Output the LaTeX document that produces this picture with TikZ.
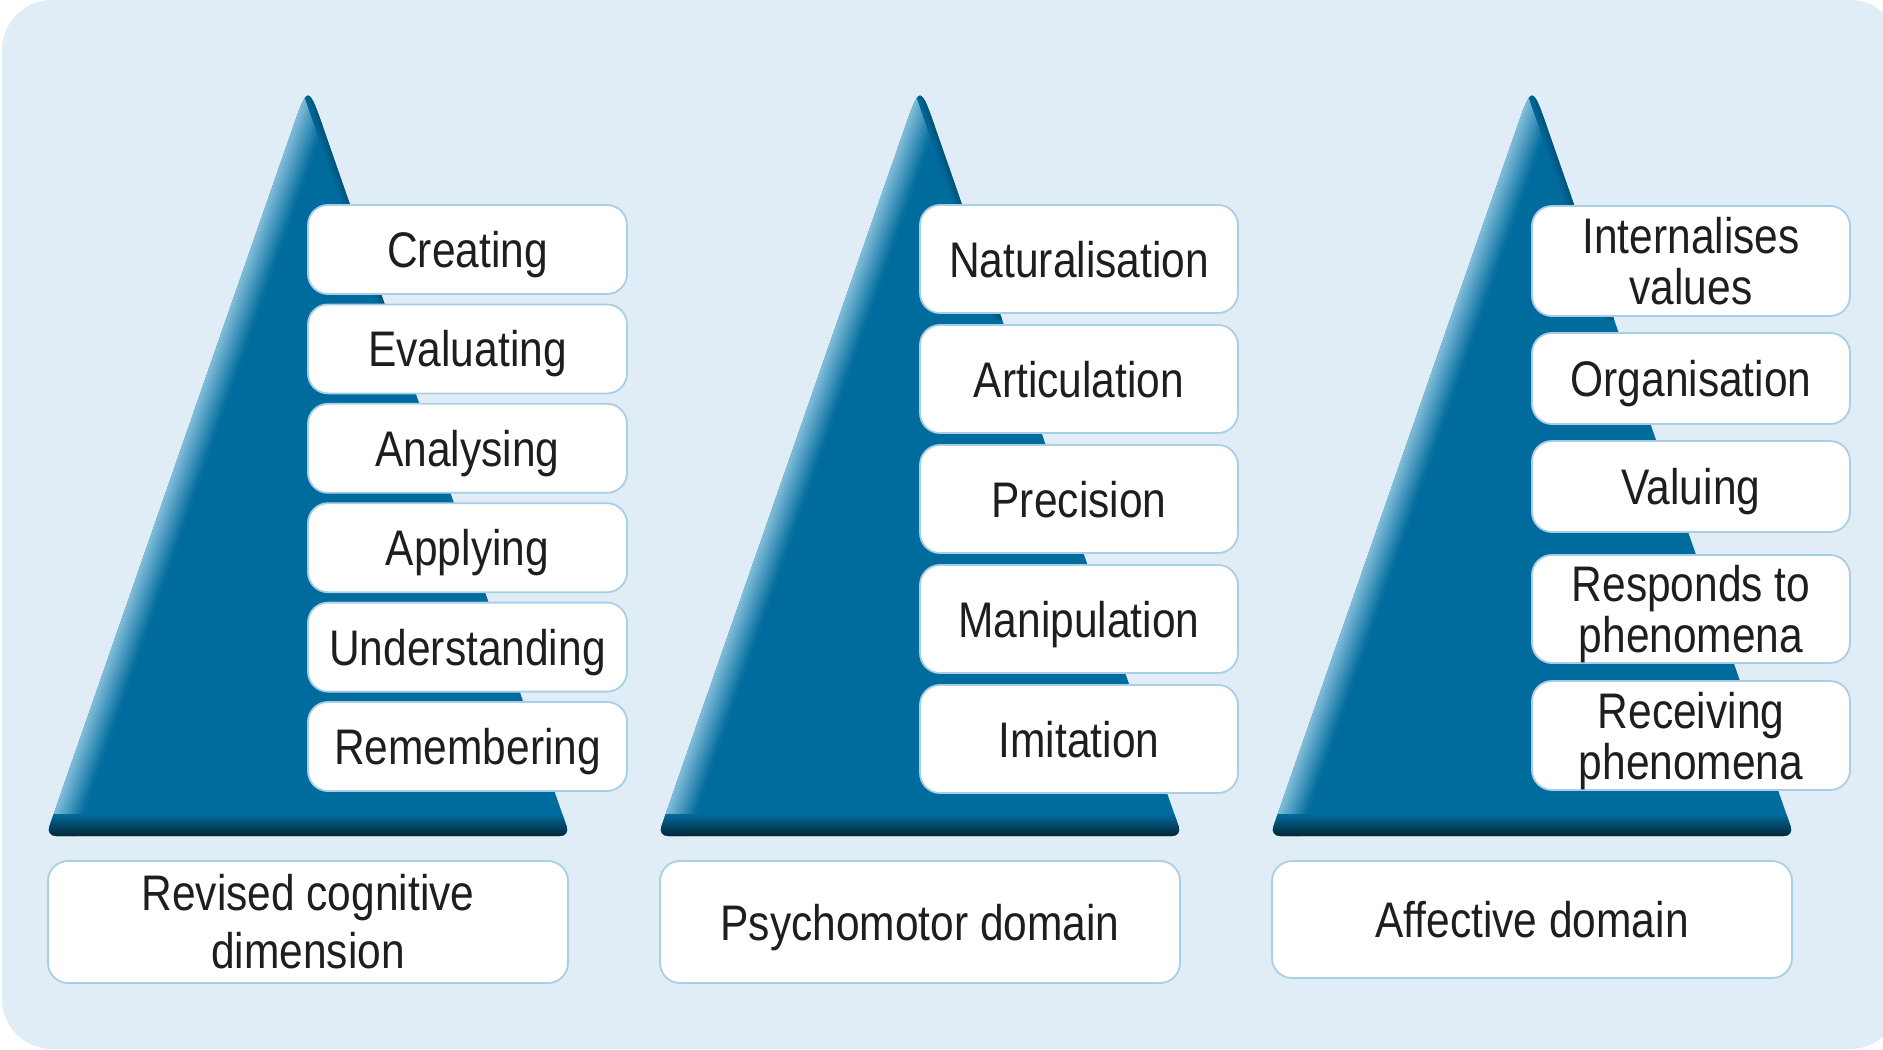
\documentclass[tikz,border=0pt]{standalone}
\usepackage{fontspec}
\setmainfont{Liberation Sans}[FakeStretch=0.85]
\definecolor{bgc}{HTML}{E0EDF6}
\definecolor{tri}{HTML}{006B9D}
\definecolor{trihl}{HTML}{86C0DB}
\definecolor{trish}{HTML}{04202D}
\definecolor{boxline}{HTML}{A9CFE6}
\definecolor{txt}{HTML}{1E1E1E}
\tikzset{
  lvl/.style={draw=boxline, line width=0.9pt, fill=white, rounded corners=10pt,
    text=txt, font=\fontsize{25}{25.5}\selectfont, align=center, inner sep=0pt},
  one/.style={text height=18pt, text depth=0pt},
  dom/.style={lvl, minimum width=260pt, font=\fontsize{25}{29}\selectfont},
}
\newcommand\pyrpath{[rounded corners=5pt] (308,836) -- (570,836) -- (327.5,140) .. controls (308,84) .. (288.5,140) -- (46,836) -- cycle}
\newcommand\mypyramid{%
  \fill[tri] \pyrpath;
  \begin{scope}
    \clip \pyrpath;
    \foreach \i in {0,...,11}{
      \pgfmathtruncatemacro\pc{100-\i*8.5}
      \draw[line width=1.6pt, draw=trihl!\pc!tri] (46+\i*2.6,836) -- (308+\i*2.6,84);
    }
    \foreach \i in {0,...,3}{
      \pgfmathtruncatemacro\pc{24-\i*6}
      \draw[line width=1.4pt, draw=black!\pc!tri] (308-\i*2.2,84) -- (390-\i*2.2,320);
    }
    \shade[top color=tri, bottom color=trish] (0,814) rectangle (640,838);
  \end{scope}
}
\begin{document}
\begin{tikzpicture}[x=0.5pt, y=-0.5pt]
\useasboundingbox (0,0) rectangle (1883,1049);
\fill[white] (0,0) rectangle (1883,1049);
\fill[bgc, rounded corners=25pt] (2,0) rectangle (1900,1049);

% pyramids
\mypyramid
\begin{scope}[shift={(612,0)}]\mypyramid\end{scope}
\begin{scope}[shift={(1224,0)}]\mypyramid\end{scope}

% cognitive
\tikzset{c/.style={lvl, one, minimum width=159.5pt, minimum height=44.5pt}}
\node[c] (cre) at (467.5,249.5) {Creating};
\node[c] (eva) at (467.5,348.9) {Evaluating};
\node[c] (ana) at (467.5,448.3) {Analysing};
\node[c] (app) at (467.5,547.7) {Applying};
\node[c] (und) at (467.5,647.1) {Understanding};
\node[c] (rem) at (467.5,746.5) {Remembering};

% psychomotor
\tikzset{p/.style={lvl, one, minimum width=159pt, minimum height=54pt}}
\node[p] (nat) at (1079,259) {Naturalisation};
\node[p] (art) at (1079,379) {Articulation};
\node[p] (pre) at (1079,499) {Precision};
\node[p] (man) at (1079,619) {Manipulation};
\node[p] (imi) at (1079,739) {Imitation};

% affective
\tikzset{a/.style={lvl, minimum width=159pt}}
\node[a, minimum height=55pt] (int) at (1691,261) {Internalises\\values};
\node[a, one, minimum height=45.5pt] (org) at (1691,378.5) {Organisation};
\node[a, one, minimum height=45.5pt] (val) at (1691,486.5) {Valuing};
\node[a, minimum height=54pt, text depth=0pt] (res) at (1691,609) {Responds to\\phenomena};
\node[a, minimum height=54.5pt, text depth=0pt] (rec) at (1691,735.5) {Receiving\\phenomena};

% domains
\node[dom, minimum height=61pt] (d1) at (308,922) {Revised cognitive\\dimension};
\node[dom, one, minimum height=61pt] (d2) at (920,922) {Psychomotor domain};
\node[dom, one, minimum height=58.5pt] (d3) at (1532,919.5) {Affective domain};
\end{tikzpicture}
\end{document}
